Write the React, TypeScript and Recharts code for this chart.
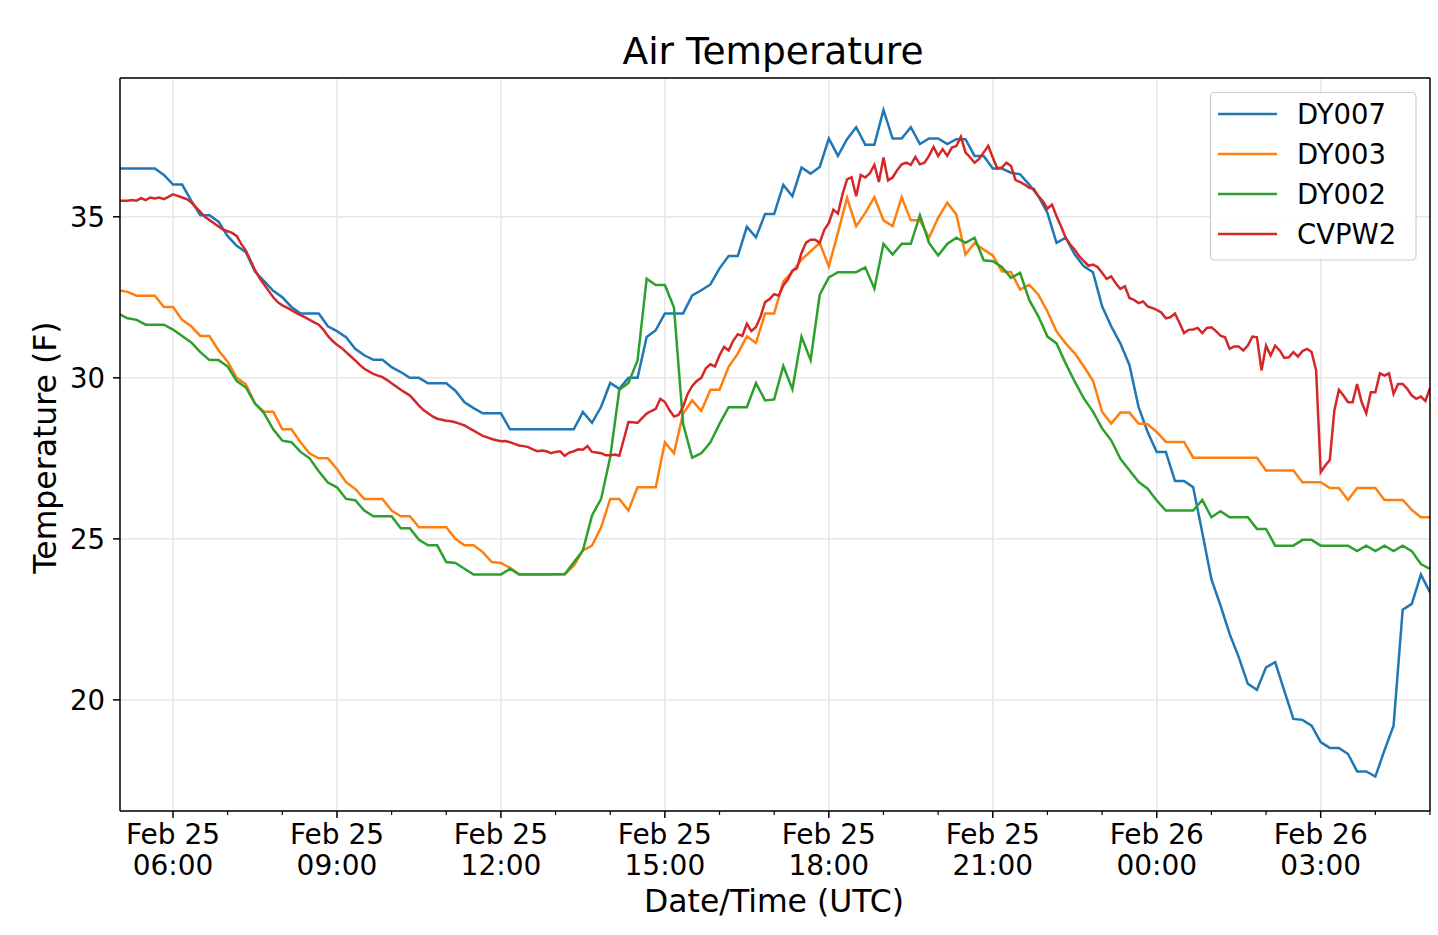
import { LineChart, Line, XAxis, YAxis, CartesianGrid, ReferenceLine } from 'recharts';

const FONT = '"DejaVu Sans", Verdana, sans-serif';

// hours counted from Feb 25 00:00 UTC
const START_HOUR = 5;
const END_HOUR = 29;
const X_MIN = 5.03;

const majorTicks = [6, 9, 12, 15, 18, 21, 24, 27];
const tickDates = ['Feb 25', 'Feb 25', 'Feb 25', 'Feb 25', 'Feb 25', 'Feb 25', 'Feb 26', 'Feb 26'];
const tickTimes = ['06:00', '09:00', '12:00', '15:00', '18:00', '21:00', '00:00', '03:00'];
const hourTicks = Array.from({ length: END_HOUR - START_HOUR }, (_, i) => START_HOUR + 1 + i);
const yTicks = [20, 25, 30, 35];

// DY007 / DY003 / DY002: one reading every 10 minutes, 05:00 -> 05:00 next day
const dy007 = [
  36.5, 36.5, 36.5, 36.5, 36.5, 36.3,
  36.0, 36.0, 35.5, 35.05, 35.05, 34.85,
  34.4, 34.1, 33.9, 33.3, 33.0, 32.7,
  32.5, 32.2, 32.0, 32.0, 32.0, 31.6,
  31.45, 31.26, 30.9, 30.7, 30.56, 30.56,
  30.33, 30.18, 30.0, 30.0, 29.83, 29.83,
  29.83, 29.6, 29.24, 29.06, 28.9, 28.9,
  28.9, 28.4, 28.4, 28.4, 28.4, 28.4,
  28.4, 28.4, 28.4, 28.94, 28.6, 29.1,
  29.84, 29.66, 30.0, 30.0, 31.27, 31.48,
  32.0, 32.0, 32.0, 32.56, 32.72, 32.9,
  33.4, 33.78, 33.78, 34.69, 34.36, 35.09,
  35.09, 35.99, 35.64, 36.53, 36.34, 36.55,
  37.43, 36.89, 37.41, 37.78, 37.24, 37.24,
  38.32, 37.43, 37.43, 37.78, 37.26, 37.43,
  37.43, 37.26, 37.41, 37.41, 36.89, 36.89,
  36.5, 36.5, 36.37, 36.32, 36.0, 35.64,
  35.12, 34.19, 34.35, 33.83, 33.46, 33.28,
  32.22, 31.6, 31.07, 30.4, 29.1, 28.32,
  27.7, 27.7, 26.8, 26.8, 26.6, 25.2,
  23.75, 22.93, 22.05, 21.33, 20.5, 20.31,
  21.01, 21.17, 20.29, 19.41, 19.38, 19.2,
  18.69, 18.51, 18.51, 18.32, 17.78, 17.78,
  17.62, 18.43, 19.2, 22.8, 22.98, 23.89,
  23.34,
];

const dy003 = [
  32.72, 32.67, 32.55, 32.55, 32.55, 32.2,
  32.2, 31.8, 31.6, 31.3, 31.3, 30.85,
  30.5, 30.0, 29.8, 29.2, 28.95, 28.95,
  28.4, 28.4, 28.0, 27.65, 27.5, 27.5,
  27.17, 26.76, 26.55, 26.24, 26.24, 26.24,
  25.88, 25.7, 25.7, 25.36, 25.36, 25.36,
  25.36, 25.0, 24.8, 24.8, 24.59, 24.28,
  24.25, 24.1, 23.9, 23.9, 23.9, 23.9,
  23.9, 23.9, 24.17, 24.64, 24.79, 25.36,
  26.24, 26.24, 25.88, 26.6, 26.6, 26.6,
  28.0, 27.66, 28.89, 29.3, 28.97, 29.63,
  29.63, 30.34, 30.75, 31.29, 31.08, 32.0,
  32.0, 32.99, 33.3, 33.67, 33.93, 34.19,
  33.46, 34.5, 35.59, 34.71, 35.12, 35.61,
  34.89, 34.71, 35.61, 34.89, 34.89, 34.35,
  34.97, 35.44, 35.07, 33.83, 34.19, 33.98,
  33.8, 33.31, 33.28, 32.74, 32.89, 32.58,
  32.06, 31.44, 31.07, 30.76, 30.35, 29.91,
  28.95, 28.58, 28.92, 28.92, 28.58, 28.56,
  28.32, 28.01, 28.01, 28.01, 27.52, 27.52,
  27.52, 27.52, 27.52, 27.52, 27.52, 27.52,
  27.12, 27.12, 27.12, 27.12, 26.76, 26.76,
  26.76, 26.58, 26.58, 26.21, 26.58, 26.58,
  26.58, 26.21, 26.21, 26.21, 25.9, 25.67,
  25.67,
];

const dy002 = [
  32.0, 31.85, 31.8, 31.65, 31.65, 31.65,
  31.5, 31.3, 31.1, 30.8, 30.55, 30.55,
  30.35, 29.9, 29.7, 29.2, 28.9, 28.4,
  28.05, 28.0, 27.7, 27.5, 27.1, 26.75,
  26.6, 26.24, 26.2, 25.88, 25.7, 25.7,
  25.7, 25.33, 25.33, 24.97, 24.8, 24.8,
  24.28, 24.25, 24.07, 23.89, 23.89, 23.89,
  23.89, 24.07, 23.89, 23.89, 23.89, 23.89,
  23.9, 23.9, 24.27, 24.64, 25.73, 26.24,
  27.54, 29.63, 29.84, 30.54, 33.08, 32.88,
  32.88, 32.18, 28.57, 27.52, 27.66, 28.0,
  28.57, 29.09, 29.09, 29.09, 29.84, 29.3,
  29.33, 30.37, 29.65, 31.28, 30.55, 32.58,
  33.12, 33.28, 33.28, 33.28, 33.43, 32.77,
  34.16, 33.83, 34.16, 34.16, 35.05, 34.19,
  33.8, 34.16, 34.35, 34.19, 34.35, 33.65,
  33.62, 33.44, 33.1, 33.26, 32.42, 31.91,
  31.28, 31.07, 30.45, 29.88, 29.36, 28.95,
  28.43, 28.06, 27.49, 27.13, 26.77, 26.56,
  26.19, 25.88, 25.88, 25.88, 25.88, 26.21,
  25.67, 25.86, 25.67, 25.67, 25.67, 25.31,
  25.31, 24.79, 24.79, 24.79, 24.97, 24.97,
  24.79, 24.79, 24.79, 24.79, 24.62, 24.79,
  24.62, 24.79, 24.62, 24.79, 24.62, 24.22,
  24.07,
];

// CVPW2 reports every 5 minutes
const cvpw2 = [
  35.5, 35.5, 35.5, 35.52, 35.5, 35.58, 35.52, 35.6, 35.57, 35.6, 35.55, 35.62,
  35.7, 35.65, 35.6, 35.55, 35.45, 35.3, 35.15, 35.0, 34.9, 34.8, 34.7, 34.6,
  34.55, 34.5, 34.4, 34.15, 33.95, 33.65, 33.35, 33.1, 32.9, 32.7, 32.5, 32.35,
  32.25, 32.18, 32.1, 32.02, 31.95, 31.88, 31.8, 31.72, 31.65, 31.5, 31.3, 31.15,
  31.03, 30.93, 30.8, 30.67, 30.54, 30.4, 30.28, 30.2, 30.12, 30.07, 30.02, 29.93,
  29.83, 29.73, 29.63, 29.54, 29.45, 29.3, 29.14, 29.0, 28.9, 28.8, 28.73, 28.7,
  28.67, 28.65, 28.62, 28.57, 28.52, 28.44, 28.36, 28.28, 28.2, 28.15, 28.1, 28.06,
  28.03, 28.04, 28.0, 27.95, 27.9, 27.88, 27.85, 27.78, 27.72, 27.74, 27.72, 27.66,
  27.7, 27.72, 27.58, 27.68, 27.72, 27.78, 27.77, 27.88, 27.7, 27.68, 27.66, 27.6,
  27.6, 27.62, 27.58, 28.1, 28.63, 28.62, 28.6, 28.75, 28.89, 28.97, 29.04, 29.35,
  29.25, 29.0, 28.8, 28.85, 29.1, 29.5, 29.75, 29.9, 30.0, 30.3, 30.42, 30.35,
  30.7, 30.96, 30.85, 31.15, 31.35, 31.3, 31.68, 31.45, 31.58, 31.9, 32.35, 32.45,
  32.6, 32.55, 32.87, 33.05, 33.33, 33.4, 33.88, 34.2, 34.29, 34.29, 34.19, 34.6,
  34.81, 35.22, 35.1, 35.7, 36.16, 36.23, 35.64, 36.3, 36.22, 36.35, 36.61, 36.08,
  36.84, 36.13, 36.22, 36.45, 36.63, 36.68, 36.61, 36.86, 36.63, 36.68, 36.89, 37.17,
  36.89, 37.1, 36.89, 37.15, 37.2, 37.49, 37.0, 36.85, 36.68, 36.8, 37.0, 37.2,
  36.84, 36.5, 36.53, 36.68, 36.58, 36.14, 36.08, 36.0, 35.9, 35.87, 35.64, 35.48,
  35.25, 35.38, 35.02, 34.7, 34.35, 34.14, 33.98, 33.77, 33.62, 33.48, 33.52, 33.44,
  33.26, 33.07, 33.15, 32.94, 32.76, 32.84, 32.48, 32.42, 32.32, 32.37, 32.22, 32.17,
  32.11, 32.03, 31.85, 31.88, 32.0, 31.7, 31.39, 31.49, 31.5, 31.55, 31.39, 31.55,
  31.57, 31.45, 31.31, 31.26, 30.9, 30.97, 30.97, 30.85, 31.0, 31.28, 31.26, 30.23,
  31.0, 30.69, 31.0, 30.85, 30.62, 30.64, 30.8, 30.66, 30.83, 30.9, 30.8, 30.23,
  27.07, 27.28, 27.45, 28.99, 29.63, 29.45, 29.24, 29.24, 29.81, 29.24, 28.9, 29.55,
  29.55, 30.14, 30.07, 30.14, 29.5, 29.81, 29.81, 29.66, 29.45, 29.35, 29.42, 29.28,
  29.69,
];

const series = [
  { key: 'DY007', color: '#1f77b4' },
  { key: 'DY003', color: '#ff7f0e' },
  { key: 'DY002', color: '#2ca02c' },
  { key: 'CVPW2', color: '#d62728' },
];

// 5-minute rows; the 10-minute stations only fill every other row
const rows = cvpw2.map((v, i) => {
  const even = i % 2 === 0;
  return {
    t: START_HOUR + i / 12,
    CVPW2: v,
    DY007: even ? dy007[i / 2] : null,
    DY003: even ? dy003[i / 2] : null,
    DY002: even ? dy002[i / 2] : null,
  };
});

const Y_MIN = 16.55;
const Y_MAX = 39.31;

function TimeTick(props: any) {
  const { x, y, payload } = props;
  const k = majorTicks.indexOf(payload.value);
  if (k < 0) {
    return <line x1={x} x2={x} y1={y} y2={y + 4} stroke="#000" strokeWidth={1.2} />;
  }
  return (
    <g>
      <line x1={x} x2={x} y1={y} y2={y + 7} stroke="#000" strokeWidth={1.5} />
      <text x={x} y={y + 32.5} textAnchor="middle" fontSize={28} fontFamily={FONT} fill="#000">
        {tickDates[k]}
      </text>
      <text x={x} y={y + 64} textAnchor="middle" fontSize={28} fontFamily={FONT} fill="#000">
        {tickTimes[k]}
      </text>
    </g>
  );
}

export default function App() {
  return (
    <div style={{ position: 'absolute', left: 0, top: 0, width: 1438, height: 935, background: '#fff' }}>
      <LineChart
        width={1438}
        height={935}
        data={rows}
        margin={{ top: 78, right: 8, bottom: 24, left: 20 }}
      >
        <CartesianGrid vertical={false} stroke="#e6e6e6" strokeWidth={1.5} />
        {majorTicks.map(t => (
          <ReferenceLine key={`g-${t}`} x={t} stroke="#e6e6e6" strokeWidth={1.5} zIndex={-50} />
        ))}
        <XAxis
          dataKey="t"
          type="number"
          domain={[X_MIN, END_HOUR]}
          ticks={hourTicks}
          interval={0}
          allowDataOverflow
          height={100}
          tickSize={0}
          tickMargin={0}
          tickLine={false}
          tick={TimeTick}
          axisLine={{ stroke: '#000', strokeWidth: 1.5 }}
        />
        <YAxis
          type="number"
          domain={[Y_MIN, Y_MAX]}
          ticks={yTicks}
          interval={0}
          allowDataOverflow
          width={100}
          tickSize={7}
          tickMargin={8}
          tick={{ fontSize: 27.5, fill: '#000', fontFamily: FONT }}
          tickLine={{ stroke: '#000', strokeWidth: 1.5 }}
          axisLine={{ stroke: '#000', strokeWidth: 1.5 }}
        />
        {series.map(s => (
          <Line
            key={s.key}
            type="linear"
            dataKey={s.key}
            stroke={s.color}
            strokeWidth={2.5}
            dot={false}
            activeDot={false}
            connectNulls
            isAnimationActive={false}
          />
        ))}
        <ReferenceLine y={Y_MAX} stroke="#000" strokeWidth={1.5} />
        <ReferenceLine x={END_HOUR} stroke="#000" strokeWidth={1.5} />
      </LineChart>

      <svg
        width={1438}
        height={935}
        style={{ position: 'absolute', left: 0, top: 0, pointerEvents: 'none' }}
        fontFamily={FONT}
      >
        <text x={773} y={64} textAnchor="middle" fontSize={37.5} fill="#000">Air Temperature</text>
        <text x={774} y={912} textAnchor="middle" fontSize={31.5} fill="#000">Date/Time (UTC)</text>
        <text
          x={56}
          y={447.5}
          textAnchor="middle"
          fontSize={31.5}
          fill="#000"
          transform="rotate(-90 56 447.5)"
        >
          Temperature (F)
        </text>

        {/* legend, upper right */}
        <rect x={1210.5} y={92.5} width={205.5} height={167.5} rx={4} fill="#fff" fillOpacity={0.85} stroke="#cccccc" strokeWidth={1.2} />
        {series.map((s, i) => (
          <g key={s.key}>
            <line x1={1218} x2={1277} y1={114 + i * 40} y2={114 + i * 40} stroke={s.color} strokeWidth={2.5} />
            <text x={1297} y={124 + i * 40} fontSize={27.5} fill="#000">{s.key}</text>
          </g>
        ))}
      </svg>
    </div>
  );
}
